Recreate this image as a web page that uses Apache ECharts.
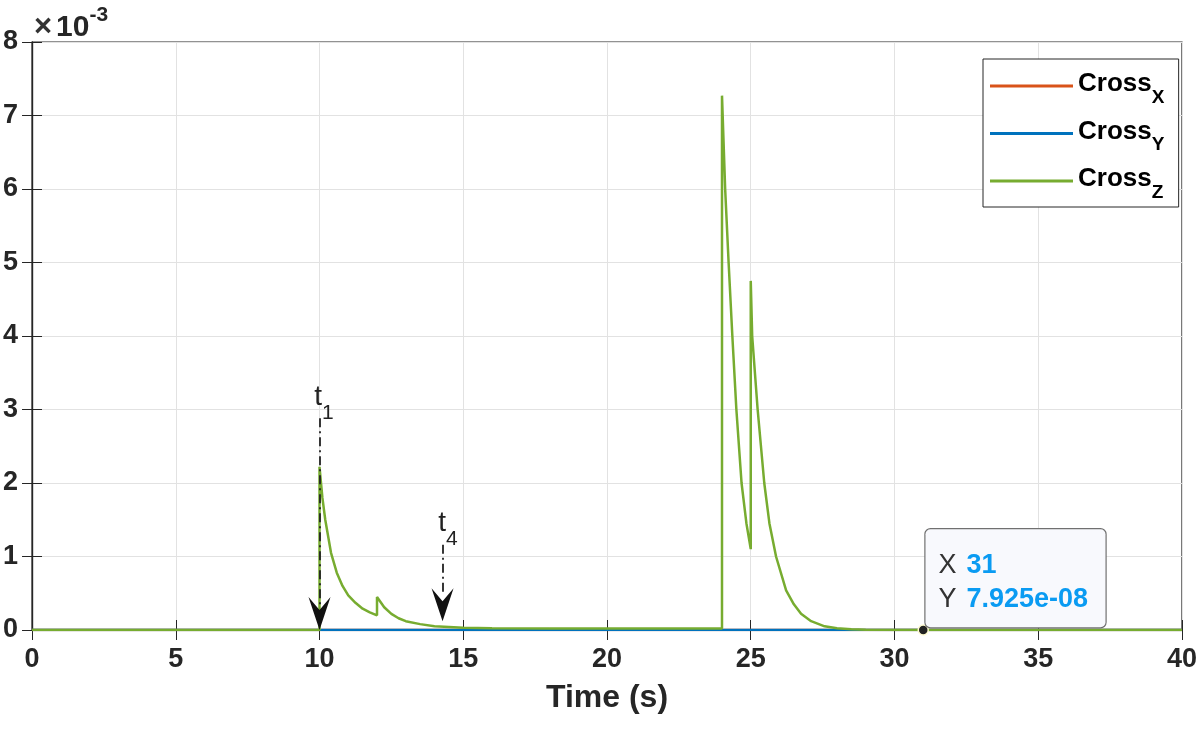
<!DOCTYPE html>
<html lang="en">
<head>
    <meta charset="UTF-8">
    <title>Cross</title>
    <script src="https://cdn.jsdelivr.net/npm/echarts@6.0.0/dist/echarts.min.js"></script>
    <style>
        html, body { margin: 0; padding: 0; background: #fff; }
        #main { width: 1200px; height: 729px; }
    </style>
</head>
<body>
<div id="main"></div>
<script type="text/javascript">
    // 数据 (y values in units of 1e-3)
    var xTicks = [0, 5, 10, 15, 20, 25, 30, 35, 40];
    var yTicks = [0, 1, 2, 3, 4, 5, 6, 7, 8];

    var timeXY = [0, 40];
    var crossX = [0, 0];
    var crossY = [0, 0];

    var timeZ = [0, 10, 10, 10.1, 10.2, 10.4, 10.6, 10.8, 11.0, 11.25, 11.5, 11.75, 12.0, 12.0,
        12.25, 12.5, 12.75, 13.0, 13.5, 14.0, 14.5, 15.0, 16.0, 18.0, 20.0, 24.0, 24.0,
        24.11, 24.23, 24.36, 24.5, 24.68, 24.85, 25.0, 25.0, 25.05, 25.24, 25.47, 25.65,
        25.88, 26.23, 26.5, 26.75, 27.1, 27.57, 28.0, 28.5, 29.0, 30.0, 31.0, 40.0];
    var crossZ = [0, 0, 2.22, 1.8, 1.5, 1.05, 0.78, 0.6, 0.47, 0.37, 0.29, 0.24, 0.2, 0.45,
        0.31, 0.22, 0.16, 0.12, 0.08, 0.05, 0.04, 0.03, 0.025, 0.022, 0.02, 0.02, 7.27,
        6.0, 5.0, 4.0, 3.0, 2.0, 1.45, 1.1, 4.75, 4.0, 3.0, 2.0, 1.45,
        1.0, 0.54, 0.35, 0.22, 0.12, 0.05, 0.025, 0.01, 0.003, 0.0002, 0.00007925, 0];

    // 注释: t1, t4 箭头
    var arrowT = [10, 14.28];
    var arrowTop = [2.88, 1.16];
    var arrowTip = [0, 0.12];
    var arrowText = ['t', 't'];
    var arrowSub = ['1', '4'];
    var arrowLabelPos = [[10.16, 3.08], [14.47, 1.37]];

    // 数据提示
    var tipX = 31;
    var tipY = 0.00007925;
    var tipText = ['31', '7.925e-08'];

    function zip(xs, ys) {
        return xs.map(function (x, i) { return [x, ys[i]]; });
    }

    var axisColor = '#262626';
    var font = 'Liberation Sans, Arial, Helvetica, sans-serif';
    var arrowPath = 'path://M11,33 L0,0 L11,13 L22,0 Z';

    var myChart = echarts.init(document.getElementById('main'));

    var markLines = arrowT.map(function (t, i) {
        return [{coord: [t, arrowTop[i]]}, {coord: [t, arrowTip[i] + 0.35]}];
    });
    var markPoints = arrowT.map(function (t, i) {
        return {
            coord: [t, arrowTip[i]],
            symbol: arrowPath,
            symbolSize: [22, 33],
            symbolOffset: [0, '-50%'],
            itemStyle: {color: '#111'},
            label: {show: false}
        };
    });
    arrowLabelPos.forEach(function (p, i) {
        markPoints.push({
            coord: p,
            symbol: 'circle',
            symbolSize: 1,
            itemStyle: {color: 'rgba(0,0,0,0)'},
            label: {
                show: true,
                position: 'inside',
                formatter: '{a|' + arrowText[i] + '}{s|' + arrowSub[i] + '}{h| }',
                rich: {
                    a: {fontSize: 28, lineHeight: 28, verticalAlign: 'top', color: '#222', fontFamily: font},
                    s: {fontSize: 21, lineHeight: 21, verticalAlign: 'bottom', color: '#222', fontFamily: font},
                    h: {fontSize: 1, lineHeight: 40}
                }
            }
        });
    });
    markPoints.push({
        coord: [tipX, tipY],
        symbol: 'circle',
        symbolSize: 10,
        itemStyle: {color: '#222', borderColor: '#fffbd0', borderWidth: 1.5},
        label: {
            show: true,
            position: [8, 3],
            align: 'left',
            verticalAlign: 'bottom',
            formatter: '{k|X}{v|' + tipText[0] + '}\n{k|Y}{v|' + tipText[1] + '}',
            backgroundColor: '#f8f9fd',
            borderColor: '#707070',
            borderWidth: 1.2,
            borderRadius: 5,
            padding: [19, 12, 11, 13],
            width: 155,
            rich: {
                k: {fontSize: 27, color: '#333', lineHeight: 34, width: 28, fontFamily: font},
                v: {fontSize: 27, color: '#0a9bf2', fontWeight: 'bold', lineHeight: 34, fontFamily: font}
            }
        }
    });

    var legendRich = {
        a: {fontSize: 26, fontWeight: 'bold', lineHeight: 20, verticalAlign: 'top', padding: [6, 0, 0, 0], color: '#000', fontFamily: font},
        s: {fontSize: 19, fontWeight: 'bold', lineHeight: 19, verticalAlign: 'bottom', color: '#000', fontFamily: font},
        h: {fontSize: 1, lineHeight: 42}
    };

    var option = {
        animation: false,
        title: {
            text: '{a|×}{c|10}{b|-3}',
            left: 29,
            top: 0,
            textStyle: {
                rich: {
                    a: {fontSize: 31, color: '#333', fontFamily: font, verticalAlign: 'bottom', lineHeight: 32, padding: [0, 4, 0, 0]},
                    c: {fontSize: 30, color: '#262626', fontFamily: font, verticalAlign: 'bottom', lineHeight: 32},
                    b: {fontSize: 21, color: '#262626', fontFamily: font, verticalAlign: 'top', lineHeight: 38}
                }
            }
        },
        legend: {
            orient: 'vertical',
            left: 983,
            top: 59,
            data: ['CrossX', 'CrossY', 'CrossZ'],
            icon: 'rect',
            itemWidth: 83,
            itemHeight: 3,
            itemGap: 5.5,
            padding: [6, 14, 5, 7],
            backgroundColor: '#fff',
            borderColor: axisColor,
            borderWidth: 1,
            borderRadius: 0,
            formatter: function (name) {
                return '{a|Cross}{s|' + name.slice(5) + '}{h| }';
            },
            textStyle: {rich: legendRich}
        },
        grid: {
            left: 31,
            right: 18,
            top: 42,
            bottom: 99,
            show: true,
            borderColor: axisColor,
            borderWidth: 1.2
        },
        xAxis: [{
            type: 'value',
            min: xTicks[0],
            max: xTicks[xTicks.length - 1],
            interval: xTicks[1] - xTicks[0],
            name: 'Time (s)',
            nameLocation: 'middle',
            nameGap: 52,
            nameTextStyle: {fontSize: 32, fontWeight: 'bold', color: axisColor, fontFamily: font},
            axisLine: {show: true, lineStyle: {color: axisColor, width: 1.2}},
            axisTick: {show: true, inside: true, length: 10, lineStyle: {color: axisColor}},
            axisLabel: {fontSize: 27, fontWeight: 'bold', color: axisColor, margin: 16, fontFamily: font},
            splitLine: {show: true, lineStyle: {color: '#e2e2e2', width: 1}}
        }, {
            type: 'value',
            position: 'top',
            min: xTicks[0],
            max: xTicks[xTicks.length - 1],
            interval: xTicks[1] - xTicks[0],
            axisLine: {show: true, lineStyle: {color: axisColor, width: 1.2}},
            axisTick: {show: true, inside: true, length: 10, lineStyle: {color: axisColor}},
            axisLabel: {show: false},
            splitLine: {show: false}
        }],
        yAxis: [{
            type: 'value',
            min: yTicks[0],
            max: yTicks[yTicks.length - 1],
            interval: yTicks[1] - yTicks[0],
            axisLine: {show: true, lineStyle: {color: axisColor, width: 1.2}},
            axisTick: {show: true, inside: true, length: 10, lineStyle: {color: axisColor}},
            axisLabel: {fontSize: 27, fontWeight: 'bold', color: axisColor, margin: 14, fontFamily: font},
            splitLine: {show: true, lineStyle: {color: '#e2e2e2', width: 1}}
        }, {
            type: 'value',
            position: 'right',
            min: yTicks[0],
            max: yTicks[yTicks.length - 1],
            interval: yTicks[1] - yTicks[0],
            axisLine: {show: true, lineStyle: {color: axisColor, width: 1.2}},
            axisTick: {show: true, inside: true, length: 10, lineStyle: {color: axisColor}},
            axisLabel: {show: false},
            splitLine: {show: false}
        }],
        series: [{
            name: 'CrossX',
            type: 'line',
            symbol: 'none',
            data: zip(timeXY, crossX),
            lineStyle: {color: '#d95319', width: 2.5},
            itemStyle: {color: '#d95319'}
        }, {
            name: 'CrossY',
            type: 'line',
            symbol: 'none',
            data: zip(timeXY, crossY),
            lineStyle: {color: '#0072bd', width: 2.5},
            itemStyle: {color: '#0072bd'}
        }, {
            name: 'CrossZ',
            type: 'line',
            symbol: 'none',
            data: zip(timeZ, crossZ),
            lineStyle: {color: '#77ac30', width: 2.5},
            itemStyle: {color: '#77ac30'},
            markLine: {
                silent: true,
                symbol: ['none', 'none'],
                label: {show: false},
                lineStyle: {color: '#222', width: 1.8, type: [9, 4, 2, 4]},
                data: markLines
            },
            markPoint: {
                silent: true,
                data: markPoints
            }
        }]
    };
    myChart.setOption(option);
</script>
</body>
</html>
